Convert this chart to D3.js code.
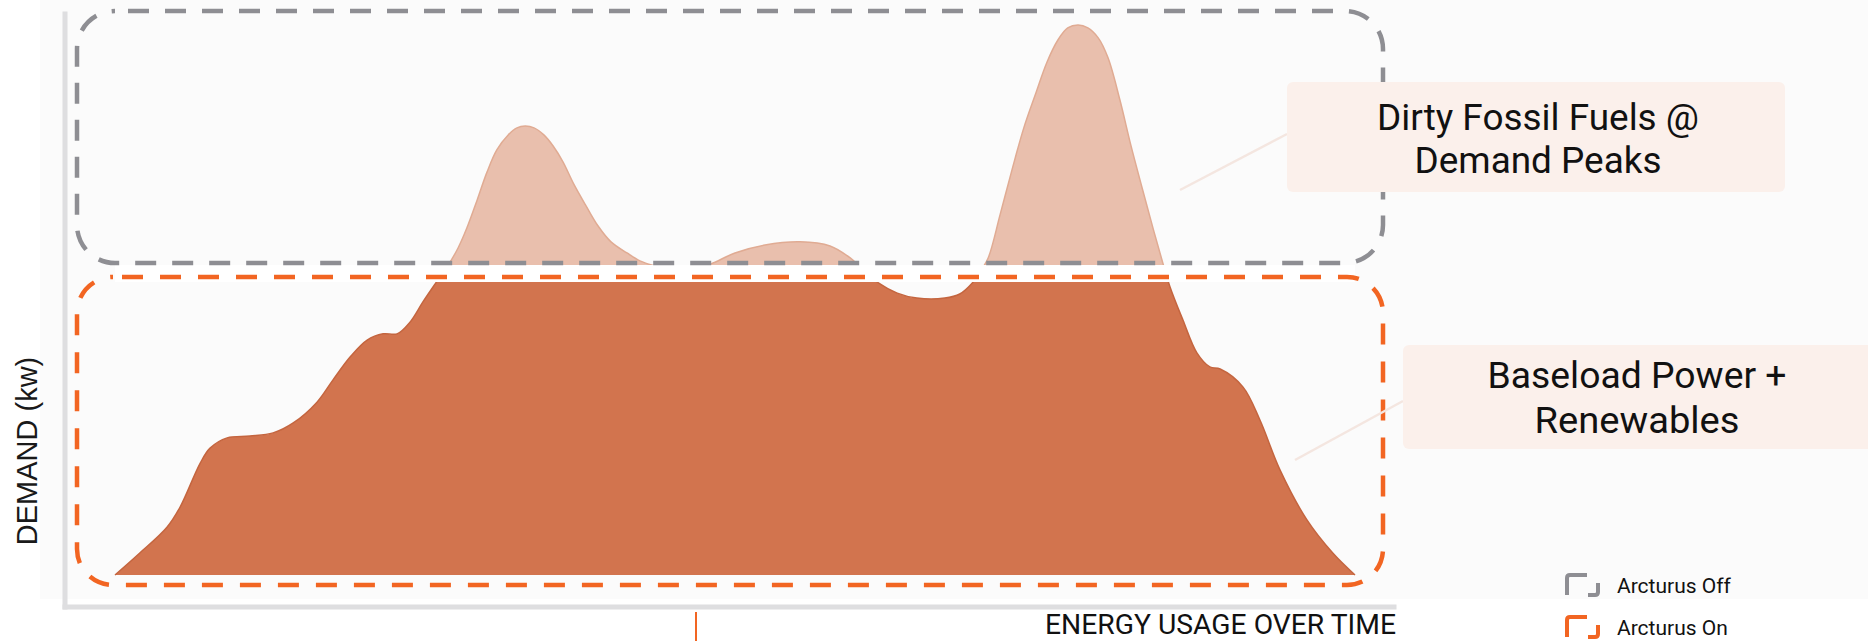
<!DOCTYPE html>
<html>
<head>
<meta charset="utf-8">
<script src="https://cdn.jsdelivr.net/npm/d3@7"></script>
<style>
  html, body { margin: 0; padding: 0; background: #ffffff; }
  svg { display: block; }
</style>
</head>
<body>
<svg id="chart" width="1868" height="641"></svg>
<script>
// Hour of the day for each demand sample
const hours = [
  0, 0.48, 1.01, 1.26, 1.65, 1.84, 2.17, 2.61, 3.06, 3.45, 3.91, 4.22, 4.55, 4.88,
  5.19, 5.46, 5.71, 5.96, 6.21, 6.45, 6.64, 6.81, 7.01, 7.20, 7.39, 7.61, 7.78, 7.94,
  8.11, 8.30, 8.48, 8.67, 8.88, 9.12, 9.35, 9.60, 9.91, 10.16, 10.45, 10.84, 11.23,
  11.52, 12.00, 12.58, 13.26, 13.84, 14.23, 14.48, 14.75, 15.14, 15.52, 16.06, 16.35,
  16.61, 16.74, 16.90, 17.13, 17.36, 17.59, 17.81, 18.04, 18.25, 18.44, 18.64, 18.83,
  19.03, 19.22, 19.45, 19.66, 19.88, 20.09, 20.28, 20.42, 20.67, 20.94, 21.19, 21.39,
  21.83, 22.16, 22.55, 23.07, 23.57, 24
];
// Total demand (kW) at each sample
const demand = [
  0, 7.5, 16.4, 23.2, 38.2, 43.3, 46.8, 47.4, 48.5, 51.9, 59.0, 66.6, 74.4, 80.2,
  82.3, 82.3, 86.3, 93.2, 99.7, 105.8, 111.6, 118.4, 128.0, 137.5, 145.1, 150.2, 152.6, 153.2,
  152.6, 150.2, 146.4, 141.0, 133.4, 125.9, 119.1, 113.7, 109.9, 107.2, 105.5, 104.8, 105.1,
  106.1, 109.9, 112.6, 113.7, 112.3, 108.2, 104.1, 100, 96.2, 94.5, 94.5, 95.9,
  100, 103.4, 108.2, 122.9, 138.2, 152.6, 163.8, 175.1, 182.6, 186.7, 187.7, 186.7,
  183.3, 176.5, 162.1, 146.8, 132.1, 118.4, 106.5, 98.3, 87.0, 75.8, 71.0, 70.3,
  64.2, 52.9, 35.8, 18.8, 7.5, 0
];
// Demand covered by baseload power + renewables (kW)
const baseloadCapacity = 100;

const xLabel = "ENERGY USAGE OVER TIME";
const yLabel = "DEMAND (kw)";
const peakNote = ["Dirty Fossil Fuels @", "Demand Peaks"];
const baseNote = ["Baseload Power +", "Renewables"];
const legendLabels = ["Arcturus Off", "Arcturus On"];

const series = hours.map((h, i) => ({ h, v: demand[i] }));

const svg = d3.select("#chart");
const W = 1868, H = 641;

const x = d3.scaleLinear().domain([0, 24]).range([115, 1355]);
const y = d3.scaleLinear().domain([0, baseloadCapacity]).range([575, 282]);

const colors = {
  page: "#fbfbfb",
  axis: "#dedee0",
  dark: "#d2744e",
  darkEdge: "#c4653f",
  light: "#e9bfad",
  lightEdge: "#e0ab93",
  off: "#8e8e93",
  on: "#f26522",
  note: "#fbf0eb",
  leader: "#f4e6e0",
  text: "#111111"
};

// page background
svg.append("rect").attr("x", 0).attr("y", 0).attr("width", W).attr("height", H).attr("fill", "#ffffff");
svg.append("rect").attr("x", 40).attr("y", 0).attr("width", W - 40).attr("height", 599).attr("fill", colors.page);

// axes (plain L-shaped frame, no ticks)
const yAxisScale = d3.scaleLinear().domain([0, 1]).range([609, 11]);
const xAxisScale = d3.scaleLinear().domain([0, 1]).range([62, 1396]);
svg.append("g")
  .attr("transform", "translate(64.5,0)")
  .call(d3.axisLeft(yAxisScale).tickValues([]).tickSizeOuter(0))
  .call(g => g.select(".domain").attr("stroke", colors.axis).attr("stroke-width", 5));
svg.append("g")
  .attr("transform", "translate(0,606.5)")
  .call(d3.axisBottom(xAxisScale).tickValues([]).tickSizeOuter(0))
  .call(g => g.select(".domain").attr("stroke", colors.axis).attr("stroke-width", 5));

// clip regions: peaks above the gap, baseload below the capacity line
const capY = y(baseloadCapacity);
const gapTop = capY - 17;
const defs = svg.append("defs");
defs.append("clipPath").attr("id", "above")
  .append("rect").attr("x", 0).attr("y", 0).attr("width", W).attr("height", gapTop);
defs.append("clipPath").attr("id", "below")
  .append("rect").attr("x", 0).attr("y", capY).attr("width", W).attr("height", H - capY);

const curve = d3.curveCatmullRom.alpha(0.5);
const area = d3.area()
  .x(d => x(d.h))
  .y0(y(0))
  .y1(d => y(d.v))
  .curve(curve);
const line = d3.line()
  .x(d => x(d.h))
  .y(d => y(d.v))
  .curve(curve);

// demand above baseload: fossil peaks
svg.append("path").datum(series)
  .attr("clip-path", "url(#above)")
  .attr("d", area).attr("fill", colors.light);
svg.append("path").datum(series)
  .attr("clip-path", "url(#above)")
  .attr("d", line).attr("fill", "none").attr("stroke", colors.lightEdge).attr("stroke-width", 1.5);

// demand met by baseload + renewables
svg.append("path").datum(series)
  .attr("clip-path", "url(#below)")
  .attr("d", area).attr("fill", colors.dark);
svg.append("path").datum(series)
  .attr("clip-path", "url(#below)")
  .attr("d", line).attr("fill", "none").attr("stroke", colors.darkEdge).attr("stroke-width", 1.5);

// white gap separating the two regimes
svg.append("rect")
  .attr("x", x(0)).attr("y", gapTop)
  .attr("width", x(24) - x(0)).attr("height", capY - gapTop)
  .attr("fill", "#ffffff");

// dashed outlines: Arcturus off (peaks) and on (baseload)
svg.append("rect")
  .attr("x", 77).attr("y", 11).attr("width", 1306).attr("height", 252)
  .attr("rx", 38).attr("ry", 38)
  .attr("fill", "none").attr("stroke", colors.off).attr("stroke-width", 4.5)
  .attr("stroke-dasharray", "21 16").attr("stroke-dashoffset", 24);
svg.append("rect")
  .attr("x", 77).attr("y", 277).attr("width", 1306).attr("height", 308)
  .attr("rx", 36).attr("ry", 36)
  .attr("fill", "none").attr("stroke", colors.on).attr("stroke-width", 4.5)
  .attr("stroke-dasharray", "21 17").attr("stroke-dashoffset", 29);

// leader lines to the notes
svg.append("line").attr("x1", 1180).attr("y1", 190).attr("x2", 1287).attr("y2", 134)
  .attr("stroke", colors.leader).attr("stroke-width", 2.5);
svg.append("line").attr("x1", 1295).attr("y1", 460).attr("x2", 1403).attr("y2", 401)
  .attr("stroke", colors.leader).attr("stroke-width", 2.5);

// note boxes
function note(bx, by, bw, bh, lines, cx, baselines, lengths) {
  svg.append("rect").attr("x", bx).attr("y", by).attr("width", bw).attr("height", bh)
    .attr("rx", 6).attr("fill", colors.note);
  lines.forEach((t, i) => {
    svg.append("text")
      .attr("x", cx).attr("y", baselines[i])
      .attr("text-anchor", "middle")
      .attr("font-family", "Roboto, 'Noto Sans', sans-serif")
      .attr("font-size", 36)
      .attr("fill", colors.text)
      .attr("textLength", lengths[i])
      .attr("lengthAdjust", "spacingAndGlyphs")
      .text(t);
  });
}
note(1287, 82, 498, 110, peakNote, 1538, [130, 173], [322, 247]);
note(1403, 345, 470, 104, baseNote, 1637, [388, 433], [299, 205]);

// axis titles
svg.append("text")
  .attr("transform", "translate(37,451) rotate(-90)")
  .attr("text-anchor", "middle")
  .attr("font-family", "'Liberation Sans', Arial, sans-serif")
  .attr("font-size", 29)
  .attr("fill", "#1a1a1a")
  .text(yLabel);
svg.append("text")
  .attr("x", 1396).attr("y", 634)
  .attr("text-anchor", "end")
  .attr("font-family", "Roboto, sans-serif")
  .attr("font-size", 27)
  .attr("fill", colors.text)
  .attr("textLength", 351)
  .attr("lengthAdjust", "spacingAndGlyphs")
  .text(xLabel);

// small marker on the time axis
svg.append("line").attr("x1", 696).attr("x2", 696).attr("y1", 612).attr("y2", 641)
  .attr("stroke", colors.on).attr("stroke-width", 2);

// legend
const legendColors = [colors.off, colors.on];
const legendTops = [575, 617];
legendLabels.forEach((lab, i) => {
  const x0 = 1567, y0 = legendTops[i], w = 31, h = 20, r = 3;
  const g = svg.append("g").attr("fill", "none")
    .attr("stroke", legendColors[i]).attr("stroke-width", 4)
    .attr("stroke-linecap", "butt");
  g.append("path").attr("d",
    `M${x0},${y0 + h} V${y0 + r} Q${x0},${y0} ${x0 + r},${y0} H${x0 + 20}`);
  g.append("path").attr("d",
    `M${x0 + w},${y0 + 8} V${y0 + h - r} Q${x0 + w},${y0 + h} ${x0 + w - r},${y0 + h} H${x0 + 21}`);
  svg.append("text")
    .attr("x", 1617).attr("y", y0 + 18)
    .attr("font-family", "Roboto, sans-serif")
    .attr("font-size", 21)
    .attr("fill", colors.text)
    .text(lab);
});
</script>
</body>
</html>
